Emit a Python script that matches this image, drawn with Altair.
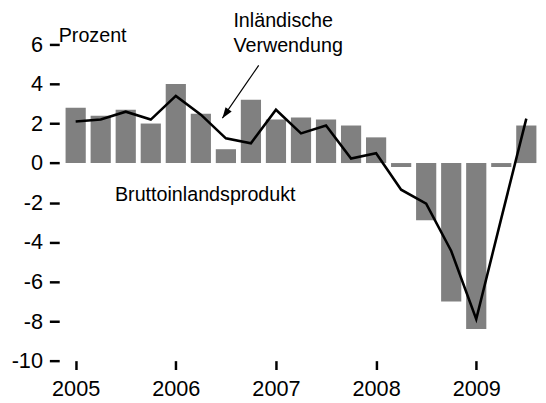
import altair as alt
import pandas as pd

quarters = ["2005Q1", "2005Q2", "2005Q3", "2005Q4",
            "2006Q1", "2006Q2", "2006Q3", "2006Q4",
            "2007Q1", "2007Q2", "2007Q3", "2007Q4",
            "2008Q1", "2008Q2", "2008Q3", "2008Q4",
            "2009Q1", "2009Q2", "2009Q3"]
bip = [2.8, 2.4, 2.7, 2.0, 4.0, 2.5, 0.7, 3.2, 2.2, 2.3, 2.2, 1.9, 1.3,
       -0.2, -2.9, -7.0, -8.4, -0.2, 1.9]
inl_verwendung = [2.1, 2.2, 2.6, 2.2, 3.4, 2.45, 1.25, 1.0, 2.7, 1.5, 1.9,
                  0.23, 0.5, -1.35, -2.05, -4.45, -7.9, -2.8, 2.25]
years = ["2005", "2006", "2007", "2008", "2009"]
y_ticks = [-10, -8, -6, -4, -2, 0, 2, 4, 6]

FONT = "Arial, Liberation Sans, sans-serif"

df = pd.DataFrame({
    "quarter": quarters,
    "t": list(range(len(quarters))),
    "bip": bip,
    "inl": inl_verwendung,
})

year_ticks = [4 * i for i in range(len(years))]
label_expr = "[" + ",".join(f"'{y}'" for y in years) + "][datum.value / 4]"

xscale = alt.Scale(domain=[-0.46, 18.27], nice=False, zero=False)
yscale = alt.Scale(domain=[-10, 7], nice=False)

xaxis = alt.Axis(values=year_ticks, labelExpr=label_expr, title=None,
                 domain=False, grid=False, tickSize=9, tickWidth=2.5,
                 tickColor="black", labelFont=FONT, labelFontSize=22,
                 labelColor="black", labelPadding=9, labelFlush=False)
yaxis = alt.Axis(values=y_ticks, labelExpr="'' + datum.value",
                 title="Prozent", domain=False, grid=False,
                 tickSize=10, tickWidth=2.5, tickColor="black",
                 labelFont=FONT, labelFontSize=22, labelColor="black",
                 labelPadding=7, titleAngle=0, titleAlign="left",
                 titleBaseline="alphabetic", titleX=-1, titleY=17,
                 titleFont=FONT, titleFontSize=20, titleFontWeight="normal",
                 titleColor="black")

base = alt.Chart(df)

bars = base.mark_bar(size=20.5, color="#808080").encode(
    x=alt.X("t:Q", scale=xscale, axis=xaxis),
    y=alt.Y("bip:Q", scale=yscale, axis=yaxis),
)

line = base.mark_line(color="black", strokeWidth=2.6).encode(
    x="t:Q",
    y="inl:Q",
)

labels = pd.DataFrame({
    "text": ["Inländische", "Verwendung", "Bruttoinlandsprodukt"],
    "t": [6.3, 6.3, 1.57],
    "y": [6.9, 5.6, -1.92],
})
text = alt.Chart(labels).mark_text(
    align="left", baseline="alphabetic", font=FONT, fontSize=20, color="black"
).encode(x="t:Q", y="y:Q", text="text:N")

arrow_df = pd.DataFrame({"t": [7.31], "y": [4.94], "t2": [5.86], "y2": [2.27]})
shaft = alt.Chart(arrow_df).mark_rule(color="black", strokeWidth=1.2).encode(
    x="t:Q", y="y:Q", x2="t2:Q", y2="y2:Q"
)
head = alt.Chart(arrow_df).mark_point(
    shape="M0,0L-0.55,1.6L0.55,1.6Z", filled=True, color="black",
    size=190, angle=215, opacity=1
).encode(x="t2:Q", y="y2:Q")

chart = alt.layer(bars, line, text, shaft, head).properties(
    width=486, height=341,
    autosize=alt.AutoSizeParams(type="none"),
    padding={"left": 52, "top": 14, "right": 0, "bottom": 40},
).configure_view(stroke=None)

chart.save("out.html", embed_options={"renderer": "svg", "actions": False})
